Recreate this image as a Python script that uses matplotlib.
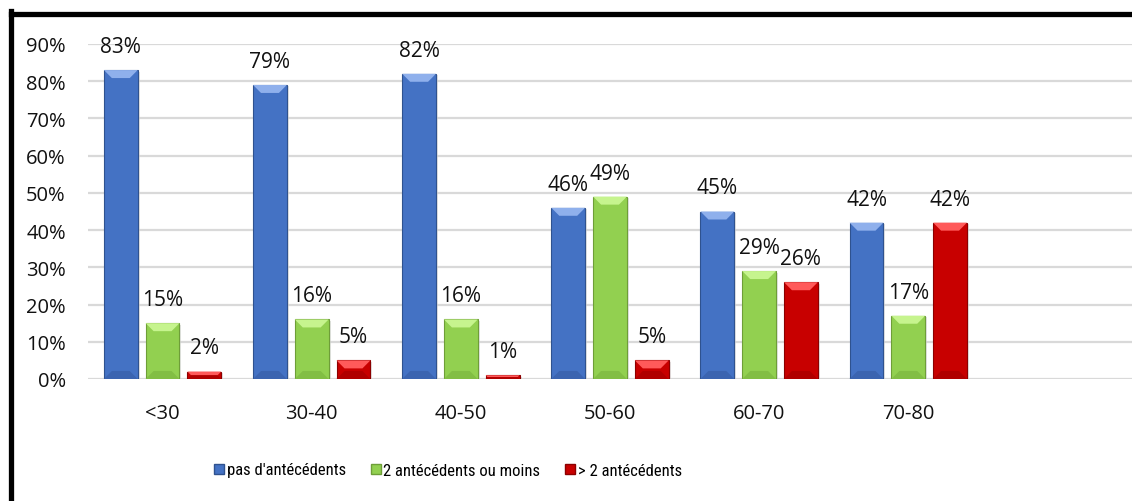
import matplotlib.pyplot as plt
import numpy as np
from matplotlib.patches import Polygon
from matplotlib.lines import Line2D
from matplotlib.ticker import PercentFormatter
from matplotlib import font_manager

categories = ["<30", "30-40", "40-50", "50-60", "60-70", "70-80"]
series_names = ["pas d'antécédents", "2 antécédents ou moins", "> 2 antécédents"]
pas_antecedents = [83, 79, 82, 46, 45, 42]
deux_ou_moins = [15, 16, 16, 49, 29, 17]
plus_de_deux = [2, 5, 1, 5, 26, 42]

colors = ["#4472C4", "#92D050", "#C80000"]
top_colors = ["#8FB0EC", "#C6F48E", "#FF5A5A"]
bottom_colors = ["#3B64B0", "#82BE44", "#B00000"]
edge_colors = ["#2F528F", "#6E9E38", "#8C0000"]

plt.rcParams["font.family"] = ["Open Sans", "DejaVu Sans"]

# narrow face for the legend if one is available
available = {f.name for f in font_manager.fontManager.ttflist}
legend_family = [n for n in ["Roboto Condensed", "Liberation Sans Narrow", "Open Sans Condensed",
                             "DejaVu Sans Condensed", "Roboto"] if n in available]

fig = plt.figure(figsize=(11.32, 5.02), dpi=100)
ax = fig.add_axes([88 / 1132, 1 - 380 / 502, 1 - 88 / 1132, 335 / 502])

x = np.arange(len(categories))
width = 34 / 150
step = 42 / 150
bevel_y = 8 / 372
bevel_x = 8 / 150

data = [pas_antecedents, deux_ou_moins, plus_de_deux]
for i, (vals, name) in enumerate(zip(data, series_names)):
    heights = np.array(vals) / 100
    pos = x + (i - 1) * step
    # soft shadow behind the bars
    ax.bar(pos + 2 / 150, heights, width, bottom=-1.5 / 372, color="#cfcfcf",
           alpha=0.6, zorder=2, linewidth=0)
    bars = ax.bar(pos, heights, width, color=colors[i], edgecolor=edge_colors[i],
                  linewidth=0.8, zorder=3, label=name)
    for b, h in zip(bars, heights):
        x0 = b.get_x()
        x1 = x0 + b.get_width()
        by = min(bevel_y, h / 2)
        bx = bevel_x * by / bevel_y
        ax.add_patch(Polygon([(x0, h), (x1, h), (x1 - bx, h - by), (x0 + bx, h - by)],
                             closed=True, facecolor=top_colors[i], edgecolor="none",
                             zorder=4))
        ax.add_patch(Polygon([(x0, 0), (x1, 0), (x1 - bx, by), (x0 + bx, by)],
                             closed=True, facecolor=bottom_colors[i], edgecolor="none",
                             zorder=4))
        ax.annotate(f"{round(h * 100)}%", (b.get_x() + b.get_width() / 2, h),
                    xytext=(0, 13), textcoords="offset points", ha="center",
                    va="baseline", fontsize=15, color="#111111", zorder=5)

ax.set_xlim(-0.5, 6.5)
ax.set_ylim(0, 0.9)
ax.set_yticks(np.arange(0, 0.91, 0.1))
ax.yaxis.set_major_formatter(PercentFormatter(1.0, decimals=0))
ax.set_xticks(x)
ax.set_xticklabels(categories)
ax.tick_params(axis="y", length=0, pad=16, labelsize=14.5, colors="#111111")
ax.tick_params(axis="x", length=0, pad=17, labelsize=14.5, colors="#111111")
ax.grid(axis="y", color="#d9d9d9", linewidth=1.6, zorder=0)
ax.set_axisbelow(True)
for s in ax.spines.values():
    s.set_visible(False)

handles = [Line2D([], [], marker="s", linestyle="none", markersize=7,
                  markerfacecolor=colors[i], markeredgecolor=edge_colors[i])
           for i in range(3)]
fig.legend(handles, series_names, loc="center", bbox_to_anchor=(448 / 1132, 1 - 471 / 502),
           ncol=3, frameon=False, handletextpad=0.15, columnspacing=1.5,
           handlelength=0.6, prop={"family": legend_family + ["Open Sans"], "size": 12})

# black frame on the left and top
fig.add_artist(Line2D([10.5 / 1132, 10.5 / 1132], [0, 1 - 12 / 502], color="black",
                      linewidth=3.8, transform=fig.transFigure, solid_capstyle="projecting"))
fig.add_artist(Line2D([10.5 / 1132, 1], [1 - 14.5 / 502, 1 - 14.5 / 502], color="black",
                      linewidth=3.8, transform=fig.transFigure, solid_capstyle="projecting"))

fig.savefig("out.png", dpi=100)
